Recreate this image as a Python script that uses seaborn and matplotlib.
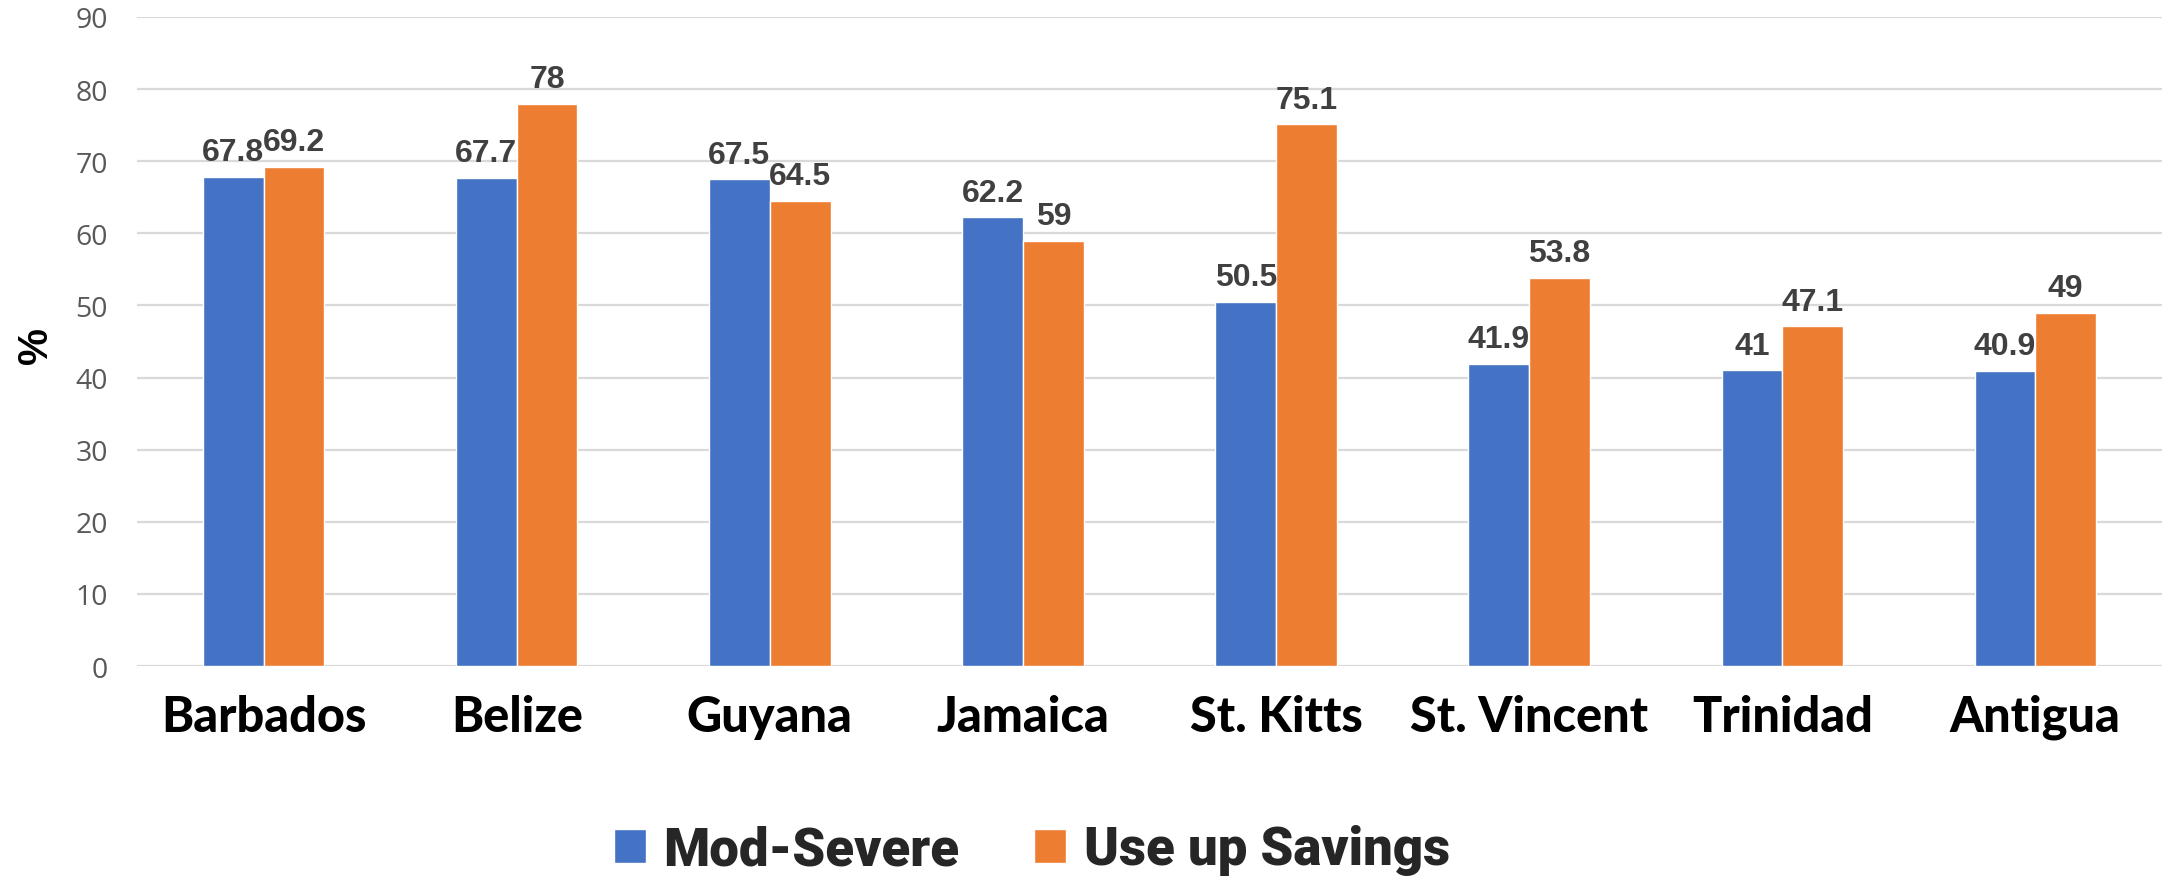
import pandas as pd
import numpy as np
import matplotlib.pyplot as plt
import seaborn as sns

#1. Data
countries = ['Barbados', 'Belize', 'Guyana', 'Jamaica', 'St. Kitts', 'St. Vincent', 'Trinidad', 'Antigua']
mod_severe = [67.8, 67.7, 67.5, 62.2, 50.5, 41.9, 41, 40.9]
use_savings = [69.2, 78, 64.5, 59, 75.1, 53.8, 47.1, 49]
series_names = ['Mod-Severe', 'Use up Savings']
colors = ['#4472C4', '#ED7D31']
y_ticks = [0, 10, 20, 30, 40, 50, 60, 70, 80, 90]

df = pd.DataFrame({'country': countries, series_names[0]: mod_severe, series_names[1]: use_savings})
df = df.melt(id_vars='country', var_name='series', value_name='pct')

#2. Plot
sns.set_style('white')
fig = plt.figure(figsize=(21.68, 8.78), dpi=100)
ax = fig.add_axes([0.0632, 0.2403, 0.934, 0.7392])
sns.barplot(data=df, x='country', y='pct', hue='series', palette=colors,
            width=0.48, gap=0, saturation=1, ax=ax, zorder=3)

for c in ax.containers:
    ax.bar_label(c, fmt='%g', padding=7, fontsize=23, fontweight='bold',
                 color='#404040', family='Liberation Sans')

ax.set_ylim(0, 90)
ax.set_xlim(-0.5, len(countries) - 0.5)
ax.set_yticks(y_ticks)
ax.yaxis.grid(True, color='#d9d9d9', linewidth=1.6, zorder=0)
ax.set_axisbelow(True)
for s in ax.spines.values():
    s.set_visible(False)
ax.tick_params(axis='both', length=0)
ax.tick_params(axis='y', labelsize=20.5, labelcolor='#595959', pad=21)
for t in ax.get_yticklabels():
    t.set_family('Open Sans')
ax.tick_params(axis='x', pad=20)
for t in ax.get_xticklabels():
    t.set_family('Lato')
    t.set_fontweight('black')
    t.set_fontsize(35)
    t.set_color('black')

# y label "%" sits left of the tick labels
ax.set_xlabel('')
ax.set_ylabel('%', fontsize=30, fontweight='bold', color='black', family='Liberation Sans')
ax.yaxis.label.set(ha='center', va='center', rotation_mode='anchor')
ax.yaxis.set_label_coords(-0.0499, 0.496)

#3. Legend
ax.get_legend().remove()
handles, labels = ax.get_legend_handles_labels()
fig.legend(handles[:2], labels[:2], loc='center', bbox_to_anchor=(0.476, 0.0308), ncol=2,
           frameon=False, handlelength=0.6, handleheight=0.6, handletextpad=0.33,
           columnspacing=1.42, borderpad=0,
           prop={'family': 'Roboto', 'weight': 'black', 'size': 38})

plt.savefig('out.png', dpi=100)
